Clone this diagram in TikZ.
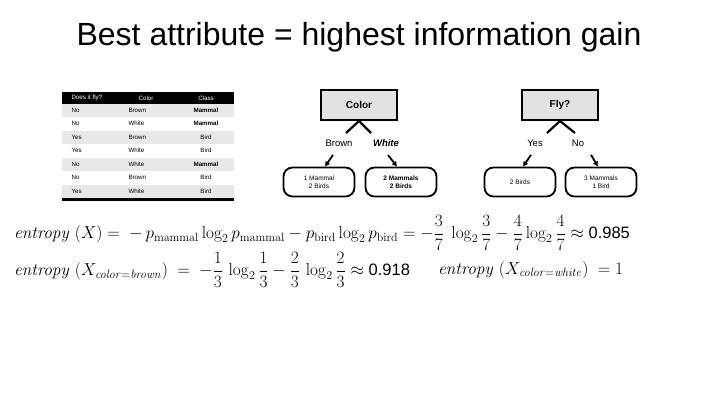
\documentclass[tikz,border=0pt]{standalone}
\usepackage{amsmath}
\usepackage[no-math]{fontspec}
\setmainfont{Liberation Sans}
\usetikzlibrary{arrows.meta, positioning, calc}
\definecolor{rowgray}{RGB}{232,232,232}
\definecolor{boxgray}{RGB}{226,226,226}

\begin{document}
\begin{tikzpicture}[x=1pt,y=-1pt,
  split/.style={draw,line width=2pt,fill=boxgray,minimum width=76pt,minimum height=30pt,font=\fontsize{10}{12}\selectfont\bfseries},
  leaf/.style={draw,line width=1.8pt,rounded corners=9pt,minimum width=71pt,minimum height=29pt,align=center,font=\fontsize{6.5}{8}\selectfont},
  branch/.style={line width=2.2pt},
  pick/.style={line width=1.8pt,-{Latex[length=5pt,width=6pt]}},
  cell/.style={font=\fontsize{6.2}{7}\selectfont},
  eq/.style={anchor=west,inner sep=0pt,font=\fontsize{16.5}{19}\selectfont}]
  \useasboundingbox (0,0) rectangle (720,405);
  \node (title) at (359,37) {\fontsize{32}{38}\selectfont Best attribute = highest information gain};

  % data table
  \fill[black] (62,92) rectangle (234,103.5);
  \node[cell,white,anchor=west] (hfly) at (68,97.8) {Does it fly?};
  \node[cell,white] (hcolor) at (146,97.8) {Color};
  \node[cell,white] (hclass) at (206,97.8) {Class};
  \foreach \i/\fly/\col/\cls/\shade in {
    1/No/Brown/\textbf{Mammal}/100,
    2/No/White/\textbf{Mammal}/0,
    3/Yes/Brown/Bird/100,
    4/Yes/White/Bird/0,
    5/No/White/\textbf{Mammal}/100,
    6/No/Brown/Bird/0,
    7/Yes/White/Bird/100
  }{
    \fill[rowgray!\shade!white] (62,103.5+13.5*\i-13.5) rectangle (234,103.5+13.5*\i);
    \node[cell,anchor=west] (fly\i) at (68,96.75+13.5*\i) {\fly};
    \node[cell,anchor=west] (col\i) at (125,96.75+13.5*\i) {\col};
    \node[cell] (cls\i) at (206,96.75+13.5*\i) {\cls};
  }
  \fill[black] (62,198) rectangle (234,200.5);

  % split on color
  \node[split] (color) at (359,105) {Color};
  \coordinate (cl) at (346,133);
  \coordinate (cr) at (371,133);
  \draw[branch] (cl) -- (color.south) -- (cr);
  \node[font=\fontsize{9.5}{11}\selectfont] (brown) at (339,143) {Brown};
  \node[font=\fontsize{9.5}{11}\selectfont\bfseries\itshape] (white) at (386,143) {White};
  \node[leaf] (lbrown) at (319,182) {1 Mammal\\2 Birds};
  \node[leaf,font=\fontsize{6.5}{8}\selectfont\bfseries] (lwhite) at (401,182) {2 Mammals\\2 Birds};
  \draw[pick] ($(brown.south)+(-6,5)$) -- ($(lbrown.north)+(6,0)$);
  \draw[pick] ($(white.south)+(2,5)$) -- ($(lwhite.north)+(-4,0)$);

  % split on fly
  \node[split] (fly) at (560,105) {Fly?};
  \coordinate (fl) at (547,133);
  \coordinate (fr) at (575,133);
  \draw[branch] (fl) -- (fly.south) -- (fr);
  \node[font=\fontsize{9.5}{11}\selectfont] (yes) at (535,143) {Yes};
  \node[font=\fontsize{9.5}{11}\selectfont] (no) at (578,143) {No};
  \node[leaf] (lyes) at (520,182) {2 Birds};
  \node[leaf] (lno) at (601,182) {3 Mammals\\1 Bird};
  \draw[pick] ($(yes.south)+(-4,5)$) -- ($(lyes.north)+(3,0)$);
  \draw[pick] ($(no.south)+(13,5)$) -- ($(lno.north)+(-3,0)$);

  % entropy values
  \node[eq] (hx) at (14,233)
    {$\mathit{entropy}\ (X) =\ -\,p_{\mathrm{mammal}}\log_2 p_{\mathrm{mammal}} - p_{\mathrm{bird}}\log_2 p_{\mathrm{bird}} = -\dfrac{3}{7}\ \log_2\dfrac{3}{7} - \dfrac{4}{7}\log_2\dfrac{4}{7} \approx$\ 0.985};
  \node[eq] (hbrown) at (14,270)
    {$\mathit{entropy}\ (X_{\mathit{color=brown}})\ =\ -\dfrac{1}{3}\,\log_2\dfrac{1}{3} - \dfrac{2}{3}\,\log_2\dfrac{2}{3} \approx$\ 0.918};
  \node[eq] (hwhite) at (438,270)
    {$\mathit{entropy}\ (X_{\mathit{color=white}})\ = 1$};
\end{tikzpicture}
\end{document}
